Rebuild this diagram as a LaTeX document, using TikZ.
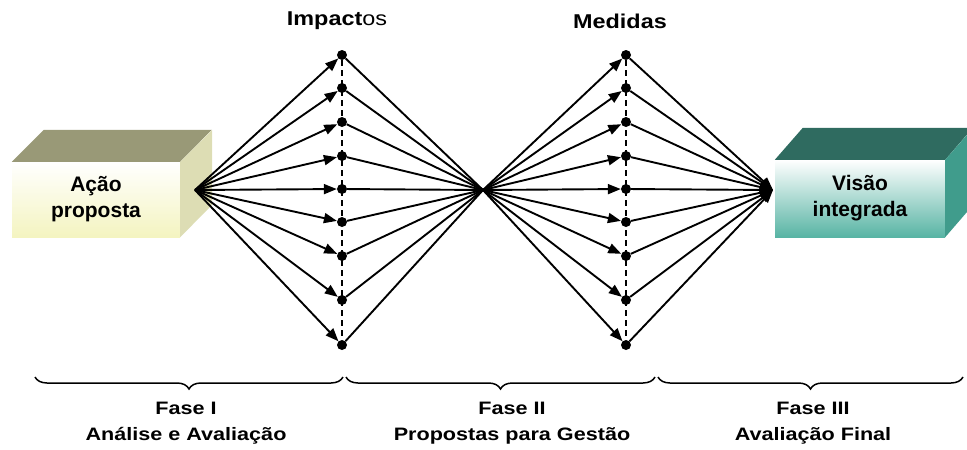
\documentclass[tikz,border=0pt]{standalone}
\usepackage{fontspec}
\setmainfont{Liberation Sans}
\usetikzlibrary{shapes,arrows.meta,decorations.pathreplacing}

\definecolor{oliveTop}{RGB}{153,153,119}
\definecolor{oliveSide}{RGB}{221,221,180}
\definecolor{oliveFront}{RGB}{244,244,192}
\definecolor{tealTop}{RGB}{47,107,96}
\definecolor{tealSide}{RGB}{64,156,140}
\definecolor{tealFront}{RGB}{88,180,164}

\tikzset{
  dot/.style={shape=circle,fill=black,inner sep=0pt,minimum size=10pt},
  fan/.style={draw=black,line width=1.9pt},
  fanarrow/.style={-{Triangle[length=13pt,width=10pt]},draw=black,line width=1.9pt},
  boxtext/.style={align=center,font=\bfseries\fontsize{21}{26}\selectfont},
  headtext/.style={align=center,xscale=1.17,transform shape,font=\bfseries\fontsize{20}{22}\selectfont},
  phase/.style={align=center,xscale=1.2,transform shape,font=\bfseries\fontsize{18}{26}\selectfont},
  phasebrace/.style={decorate,decoration={brace,mirror,amplitude=12pt},line width=1.5pt}
}

\begin{document}
\begin{tikzpicture}[x=1pt,y=-1pt]
\useasboundingbox (0,0) rectangle (967,450);

% boxes
\node[shape=rectangle,minimum width=168pt,minimum height=75pt,inner sep=0pt,top color=white,bottom color=oliveFront,boxtext] (acao) at (96,199.5) {Ação\\proposta};
\fill[oliveTop] (acao.north west) -- ++(32,-32) -- ++(168,0) -- (acao.north east) -- cycle;
\fill[oliveSide] (acao.north east) -- ++(32,-32) -- ++(0,75) -- (acao.south east) -- cycle;

\node[shape=rectangle,minimum width=170pt,minimum height=77pt,inner sep=0pt,top color=white,bottom color=tealFront,boxtext] (visao) at (860,198.5) {Visão\\integrada};
\fill[tealTop] (visao.north west) -- ++(28,-32) -- ++(170,0) -- (visao.north east) -- cycle;
\fill[tealSide] (visao.north east) -- ++(28,-32) -- ++(0,77) -- (visao.south east) -- cycle;

\coordinate (h1) at (195,190);
\coordinate (h2) at (483,190);
\coordinate (h3) at (773,190);

\node[dot] (i1) at (342,55) {};
\node[dot] (i2) at (342,88) {};
\node[dot] (i3) at (342,122) {};
\node[dot] (i4) at (342,156) {};
\node[dot] (i5) at (342,189) {};
\node[dot] (i6) at (342,222) {};
\node[dot] (i7) at (342,256) {};
\node[dot] (i8) at (342,300) {};
\node[dot] (i9) at (342,345) {};

\node[dot] (m1) at (626,55) {};
\node[dot] (m2) at (626,88) {};
\node[dot] (m3) at (626,122) {};
\node[dot] (m4) at (626,156) {};
\node[dot] (m5) at (626,189) {};
\node[dot] (m6) at (626,222) {};
\node[dot] (m7) at (626,256) {};
\node[dot] (m8) at (626,300) {};
\node[dot] (m9) at (626,345) {};

\draw[line width=1.6pt,dash pattern=on 6pt off 4pt] (i1) -- (i9);
\draw[line width=1.6pt,dash pattern=on 6pt off 4pt] (m1) -- (m9);

% Fase I
\path (h1) edge[fanarrow] node {} (i1);
\path (h1) edge[fanarrow] node {} (i2);
\path (h1) edge[fanarrow] node {} (i3);
\path (h1) edge[fanarrow] node {} (i4);
\path (h1) edge[fanarrow] node {} (i5);
\path (h1) edge[fanarrow] node {} (i6);
\path (h1) edge[fanarrow] node {} (i7);
\path (h1) edge[fanarrow] node {} (i8);
\path (h1) edge[fanarrow] node {} (i9);

\path (i1) edge[fan] node {} (h2);
\path (i2) edge[fan] node {} (h2);
\path (i3) edge[fan] node {} (h2);
\path (i4) edge[fan] node {} (h2);
\path (i5) edge[fan] node {} (h2);
\path (i6) edge[fan] node {} (h2);
\path (i7) edge[fan] node {} (h2);
\path (i8) edge[fan] node {} (h2);
\path (i9) edge[fan] node {} (h2);

% Fase II
\path (h2) edge[fanarrow] node {} (m1);
\path (h2) edge[fanarrow] node {} (m2);
\path (h2) edge[fanarrow] node {} (m3);
\path (h2) edge[fanarrow] node {} (m4);
\path (h2) edge[fanarrow] node {} (m5);
\path (h2) edge[fanarrow] node {} (m6);
\path (h2) edge[fanarrow] node {} (m7);
\path (h2) edge[fanarrow] node {} (m8);
\path (h2) edge[fanarrow] node {} (m9);

% Fase III
\path (m1) edge[fanarrow] node {} (h3);
\path (m2) edge[fanarrow] node {} (h3);
\path (m3) edge[fanarrow] node {} (h3);
\path (m4) edge[fanarrow] node {} (h3);
\path (m5) edge[fanarrow] node {} (h3);
\path (m6) edge[fanarrow] node {} (h3);
\path (m7) edge[fanarrow] node {} (h3);
\path (m8) edge[fanarrow] node {} (h3);
\path (m9) edge[fanarrow] node {} (h3);

\node[headtext] (impactos) at (337,21) {Impact{\mdseries os}};
\node[headtext] (medidas) at (620,21) {Medidas};

% braces
\coordinate (b0) at (35,377);
\coordinate (b1) at (343,377);
\coordinate (b2) at (346,377);
\coordinate (b3) at (655,377);
\coordinate (b4) at (658,377);
\coordinate (b5) at (963,377);
\draw[phasebrace] (b0) -- (b1);
\draw[phasebrace] (b2) -- (b3);
\draw[phasebrace] (b4) -- (b5);

\node[phase] (fase1) at (186,423) {Fase I\\Análise e Avaliação};
\node[phase] (fase2) at (512,423) {Fase II\\Propostas para Gestão};
\node[phase] (fase3) at (813,423) {Fase III\\Avaliação Final};
\end{tikzpicture}
\end{document}
